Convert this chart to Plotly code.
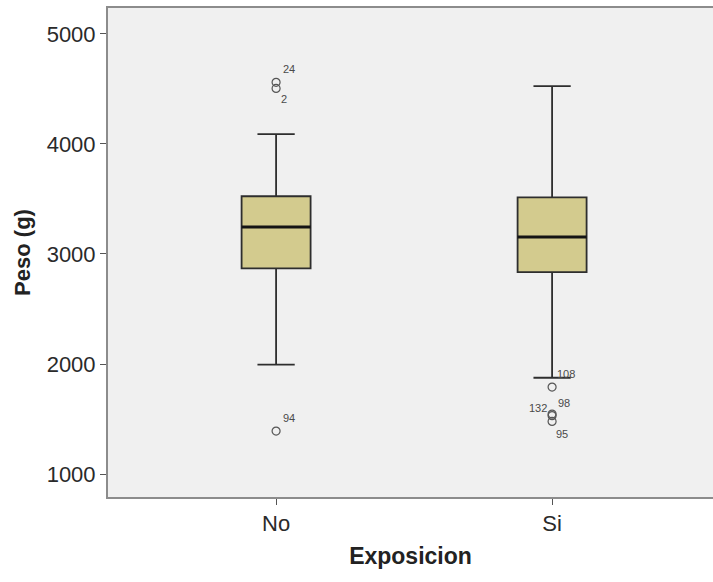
import plotly.graph_objects as go

categories = ["No", "Si"]
q1 = [2870, 2835]
median = [3245, 3155]
q3 = [3525, 3515]
lower_whisker = [1995, 1875]
upper_whisker = [4090, 4525]

outlier_cat = ["No", "No", "No", "Si", "Si", "Si", "Si"]
outlier_val = [4560, 4505, 1390, 1790, 1545, 1530, 1478]
outlier_lbl = ["24", "2", "94", "108", "132", "98", "95"]
# label offsets in pixels (style)
lbl_dx = [13, 8, 13, 14, -14, 12, 10]
lbl_dy = [13, -11, 13, 13, 6, 13, -13]

BOX_HALF = 0.125  # half box width in category units (style)

fig = go.Figure()
fig.add_trace(go.Box(
    x=categories, q1=q1, median=median, q3=q3,
    lowerfence=lower_whisker, upperfence=upper_whisker,
    fillcolor="#d3cb8e", line=dict(color="#2e2e2e", width=1.8),
    whiskerwidth=0.54, boxpoints=False, showlegend=False, hoverinfo="skip",
))
fig.add_trace(go.Scatter(
    x=outlier_cat, y=outlier_val, mode="markers",
    marker=dict(symbol="circle-open", size=8, color="#555555", line=dict(width=1.2)),
    showlegend=False, hoverinfo="skip",
))
for i, m in enumerate(median):
    fig.add_shape(type="line", xref="x", yref="y",
                  x0=i - BOX_HALF, x1=i + BOX_HALF, y0=m, y1=m,
                  line=dict(color="#141414", width=3))
for c, v, t, dx, dy in zip(outlier_cat, outlier_val, outlier_lbl, lbl_dx, lbl_dy):
    fig.add_annotation(x=c, y=v, text=t, showarrow=False, xshift=dx, yshift=dy,
                       font=dict(family="Liberation Sans, Arial", size=11, color="#4a4a4a"))

fig.update_layout(
    width=713, height=582,
    margin=dict(l=108, r=0, t=8, b=85),
    paper_bgcolor="white", plot_bgcolor="#f0f0f0",
    boxgap=0.75, boxgroupgap=0,
    font=dict(family="Liberation Sans, Arial", color="#333333"),
)
fig.update_xaxes(
    type="category", range=[-0.609, 1.583],
    showline=True, linecolor="#8c8c8c", linewidth=2, mirror=True,
    ticks="outside", ticklen=6, tickcolor="#555555",
    tickfont=dict(size=22, color="#2a2a2a"), showgrid=False, zeroline=False,
    title=dict(text="<b>Exposicion</b>", font=dict(size=23, color="#222222"), standoff=12),
)
fig.update_yaxes(
    range=[791, 5236], tickvals=[1000, 2000, 3000, 4000, 5000],
    showline=True, linecolor="#8c8c8c", linewidth=2, mirror=False,
    ticks="outside", ticklen=6, tickcolor="#555555",
    tickfont=dict(size=22, color="#2a2a2a"), showgrid=False, zeroline=False,
    title=dict(text="<b>Peso (g)</b>", font=dict(size=22, color="#222222"), standoff=10),
)
fig.write_html("out.html")
